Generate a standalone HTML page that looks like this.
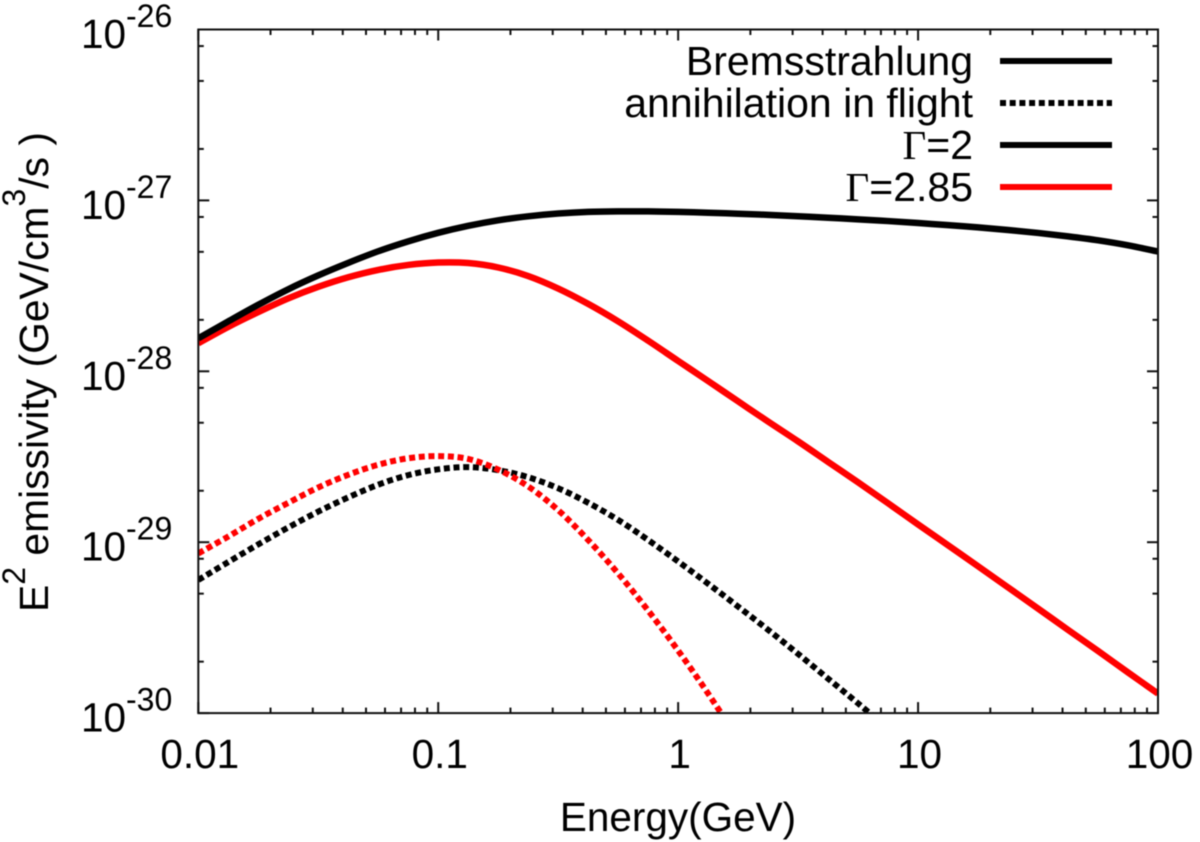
<!DOCTYPE html>
<html lang="en">
<head>
<meta charset="utf-8">
<title>E2 emissivity vs energy</title>
<style>
html,body{margin:0;padding:0;background:#fff;width:1200px;height:842px;overflow:hidden}
svg{display:block;filter:blur(0.5px)}
text{font-family:"Liberation Sans",sans-serif;fill:#000}
.serif{font-family:"Liberation Serif",serif}
</style>
</head>
<body>
<svg id="chart" width="1200" height="842" viewBox="0 0 1200 842" xmlns="http://www.w3.org/2000/svg">
  <defs>
    <clipPath id="plot-clip"><rect x="198" y="29.5" width="960" height="683.6"/></clipPath>
  </defs>
  <rect x="0" y="0" width="1200" height="842" fill="#fff"/>
  <g id="ticks"></g>
  <g id="tick-labels"></g>
  <g id="series" clip-path="url(#plot-clip)"></g>
  <rect x="198.3" y="29.5" width="959.7" height="683.6" fill="none" stroke="#111" stroke-width="2"/>

  <text x="678" y="831" font-size="40.5" text-anchor="middle">Energy(GeV)</text>
  <text transform="translate(48,372) rotate(-90)" font-size="40.8" text-anchor="middle">E<tspan font-size="32" dy="-23">2</tspan><tspan dy="23"> emissivity (GeV/cm</tspan><tspan font-size="32" dy="-23">3</tspan><tspan dy="23">/s )</tspan></text>

  <g>
    <g>
      <text x="973" y="75" font-size="41" text-anchor="end">Bremsstrahlung</text>
      <line x1="1000" y1="61" x2="1112" y2="61" stroke="#000" stroke-width="6"/>
    </g>
    <g>
      <text x="973" y="117" font-size="41" text-anchor="end">annihilation in flight</text>
      <line x1="1000" y1="103" x2="1112" y2="103" stroke="#000" stroke-width="6" stroke-dasharray="6 3.7"/>
    </g>
    <g>
      <text x="973" y="159" font-size="41" text-anchor="end"><tspan class="serif">Γ</tspan>=2</text>
      <line x1="1000" y1="145" x2="1112" y2="145" stroke="#000" stroke-width="6"/>
    </g>
    <g>
      <text x="973" y="201" font-size="41" text-anchor="end"><tspan class="serif">Γ</tspan>=2.85</text>
      <line x1="1000" y1="187" x2="1112" y2="187" stroke="#f00" stroke-width="6"/>
    </g>
  </g>
</svg>
<script>
// Chart data
var energies = [0.01,0.01334,0.01778,0.02371,0.03162,0.04217,0.05623,0.07499,0.1,0.1334,0.1778,0.2371,0.3162,0.4217,0.5623,0.7499,1,1.334,1.778,2.371,3.162,4.217,5.623,7.499,10,13.34,17.78,23.71,31.62,42.17,56.23,74.99,100];
var bremsGamma2 = [1.56e-28,1.96e-28,2.45e-28,3.02e-28,3.64e-28,4.31e-28,5.04e-28,5.76e-28,6.46e-28,7.10e-28,7.65e-28,8.07e-28,8.38e-28,8.57e-28,8.63e-28,8.62e-28,8.57e-28,8.47e-28,8.36e-28,8.23e-28,8.08e-28,7.92e-28,7.75e-28,7.57e-28,7.37e-28,7.17e-28,6.95e-28,6.71e-28,6.45e-28,6.16e-28,5.84e-28,5.46e-28,5.02e-28];
var bremsGamma285 = [1.46e-28,1.82e-28,2.22e-28,2.67e-28,3.12e-28,3.55e-28,3.92e-28,4.19e-28,4.33e-28,4.30e-28,4.05e-28,3.61e-28,3.05e-28,2.48e-28,1.96e-28,1.51e-28,1.15e-28,8.77e-29,6.67e-29,5.08e-29,3.89e-29,2.95e-29,2.24e-29,1.69e-29,1.27e-29,9.59e-30,7.23e-30,5.44e-30,4.09e-30,3.07e-30,2.31e-30,1.73e-30,1.30e-30];
var annihGamma2 = [6.01e-30,7.66e-30,9.71e-30,1.22e-29,1.51e-29,1.83e-29,2.17e-29,2.47e-29,2.67e-29,2.75e-29,2.64e-29,2.40e-29,2.07e-29,1.70e-29,1.35e-29,1.03e-29,7.71e-30,5.71e-30,4.20e-30,3.07e-30,2.22e-30,1.59e-30,1.14e-30,8.11e-31];
var annihGamma285 = [8.59e-30,1.08e-29,1.37e-29,1.70e-29,2.09e-29,2.48e-29,2.84e-29,3.10e-29,3.19e-29,3.07e-29,2.66e-29,2.12e-29,1.54e-29,1.03e-29,6.56e-30,3.98e-30,2.32e-30,1.30e-30,7.00e-31];
var xTickValues = [0.01,0.1,1,10,100];
var xTickLabels = ["0.01","0.1","1","10","100"];
var yTickValues = [1e-26,1e-27,1e-28,1e-29,1e-30];
var yTickExponents = ["-26","-27","-28","-29","-30"];
var xMinorMantissas = [2,3,4,5,6,7,8,9];
var yMinorMantissas = [2,5,8];

var SVGNS = "http://www.w3.org/2000/svg";
var plotLeft = 198.3, plotRight = 1158, plotTop = 29.5, plotBottom = 713.1;
var xMin = -2, xMax = 2, yMin = -30, yMax = -26;

function xPos(e) {
  return plotLeft + (Math.log10(e) - xMin) / (xMax - xMin) * (plotRight - plotLeft);
}
function yPos(v) {
  return plotTop + (yMax - Math.log10(v)) / (yMax - yMin) * (plotBottom - plotTop);
}
function smoothPath(xs, ys) {
  var pts = [];
  for (var i = 0; i < ys.length; i++) pts.push([xPos(xs[i]), yPos(ys[i])]);
  var d = "M" + pts[0][0].toFixed(2) + " " + pts[0][1].toFixed(2);
  for (var j = 0; j < pts.length - 1; j++) {
    var p0 = pts[Math.max(j - 1, 0)], p1 = pts[j], p2 = pts[j + 1], p3 = pts[Math.min(j + 2, pts.length - 1)];
    var c1x = p1[0] + (p2[0] - p0[0]) / 6, c1y = p1[1] + (p2[1] - p0[1]) / 6;
    var c2x = p2[0] - (p3[0] - p1[0]) / 6, c2y = p2[1] - (p3[1] - p1[1]) / 6;
    d += "C" + c1x.toFixed(2) + " " + c1y.toFixed(2) + " " + c2x.toFixed(2) + " " + c2y.toFixed(2) + " " + p2[0].toFixed(2) + " " + p2[1].toFixed(2);
  }
  return d;
}

var seriesGroup = document.getElementById("series");
function drawSeries(values, color, dash, width, name) {
  var path = document.createElementNS(SVGNS, "path");
  path.setAttribute("d", smoothPath(energies, values));
  path.setAttribute("fill", "none");
  path.setAttribute("stroke", color);
  path.setAttribute("stroke-width", width);
  if (dash) path.setAttribute("stroke-dasharray", dash);
  
  
  seriesGroup.appendChild(path);
}
drawSeries(annihGamma2, "#000", "6 3.7", 6, "annihilation-gamma-2-curve");
drawSeries(annihGamma285, "#f00", "6 3.7", 6, "annihilation-gamma-2-85-curve");
drawSeries(bremsGamma285, "#f00", null, 6.5, "bremsstrahlung-gamma-2-85-curve");
drawSeries(bremsGamma2, "#000", null, 6.5, "bremsstrahlung-gamma-2-curve");

var tickGroup = document.getElementById("ticks");
function tickLine(x1, y1, x2, y2, name) {
  var l = document.createElementNS(SVGNS, "line");
  l.setAttribute("x1", x1);
  l.setAttribute("y1", y1);
  l.setAttribute("x2", x2);
  l.setAttribute("y2", y2);
  l.setAttribute("stroke", "#111");
  l.setAttribute("stroke-width", "2");
  
  
  tickGroup.appendChild(l);
}
var majorLen = 11, minorLen = 5.5;
xTickValues.forEach(function (v, i) {
  var x = xPos(v);
  tickLine(x, plotBottom, x, plotBottom - majorLen, "x-major-tick");
  tickLine(x, plotTop, x, plotTop + majorLen, "x-major-tick-top");
  if (i < xTickValues.length - 1) {
    xMinorMantissas.forEach(function (m) {
      var xm = xPos(v * m);
      tickLine(xm, plotBottom, xm, plotBottom - minorLen, "x-minor-tick");
      tickLine(xm, plotTop, xm, plotTop + minorLen, "x-minor-tick-top");
    });
  }
});
yTickValues.forEach(function (v, i) {
  var y = yPos(v);
  tickLine(plotLeft, y, plotLeft + majorLen, y, "y-major-tick");
  tickLine(plotRight, y, plotRight - majorLen, y, "y-major-tick-right");
  if (i < yTickValues.length - 1) {
    yMinorMantissas.forEach(function (m) {
      var ym = yPos(yTickValues[i + 1] * m);
      tickLine(plotLeft, ym, plotLeft + minorLen, ym, "y-minor-tick");
      tickLine(plotRight, ym, plotRight - minorLen, ym, "y-minor-tick-right");
    });
  }
});

var labelGroup = document.getElementById("tick-labels");
function addText(x, y, size, anchor, str, name) {
  var t = document.createElementNS(SVGNS, "text");
  t.setAttribute("x", x);
  t.setAttribute("y", y);
  t.setAttribute("font-size", size);
  t.setAttribute("text-anchor", anchor);
  t.textContent = str;
  
  
  labelGroup.appendChild(t);
}
xTickValues.forEach(function (v, i) {
  addText(xPos(v) + 1.5, 768, 40.5, "middle", xTickLabels[i], "x-tick-label");
});
yTickValues.forEach(function (v, i) {
  var y = yPos(v);
  addText(81, y + 18.5, 40.5, "start", "10", "y-tick-label-base");
  addText(126, y - 2.5, 32, "start", yTickExponents[i], "y-tick-label-exponent");
});
</script>
</body>
</html>
